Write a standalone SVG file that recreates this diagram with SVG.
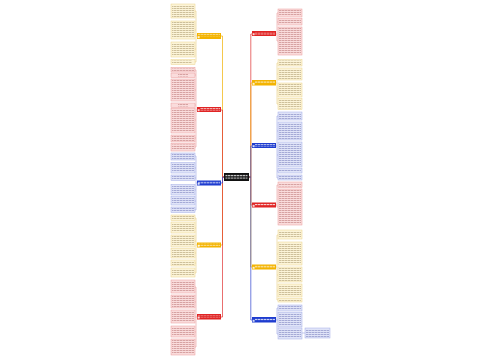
<svg xmlns="http://www.w3.org/2000/svg" width="500" height="360" viewBox="0 0 500 360">
<defs>
<pattern id="ty" width="3" height="2" patternUnits="userSpaceOnUse"><rect width="2.5" height="0.9" fill="#8a7440" opacity="0.45"/></pattern>
<pattern id="tr" width="3" height="2" patternUnits="userSpaceOnUse"><rect width="2.5" height="0.9" fill="#9a4040" opacity="0.42"/></pattern>
<pattern id="tb" width="3" height="2" patternUnits="userSpaceOnUse"><rect width="2.5" height="0.9" fill="#404a9a" opacity="0.42"/></pattern>
<pattern id="tw" width="3" height="2.4" patternUnits="userSpaceOnUse"><rect width="2.5" height="1" fill="#ffffff" opacity="0.85"/></pattern>
</defs>
<style>
.ly{fill:#fcf4d8;stroke:#ecd48c;stroke-width:0.5}
.lr{fill:#fadcdc;stroke:#eb9c9c;stroke-width:0.5}
.lb{fill:#e0e4f8;stroke:#a2ace6;stroke-width:0.5}
.ty{fill:url(#ty)}.tr{fill:url(#tr)}.tb{fill:url(#tb)}.tw{fill:url(#tw)}
.hy{fill:#f3b300}.hr{fill:#e02424}.hb{fill:#1e3ccf}
.ic{fill:#ffffff;opacity:0.8}
.c{fill:none;stroke-width:0.7}
.cy{stroke:#f0b000}.cr{stroke:#e03030}.cb{stroke:#3044d0}
.k{fill:none;stroke-width:0.6}
.ky{stroke:#e8cf80}.kr{stroke:#e89a9a}.kb{stroke:#9aa6e4}
</style>
<rect width="500" height="360" fill="#ffffff"/>
<g id="connectors">
<path class="c cy" d="M224,177 L222.5,177 L222.5,36 L221,36"/>
<path class="c cr" d="M224,177 L222.5,177 L222.5,110 L221,110"/>
<path class="c cy" d="M224,177 L222.5,177 L222.5,245 L221,245"/>
<path class="c cr" d="M224,177 L222.5,177 L222.5,317 L221,317"/>
<path class="c cb" d="M224,177 L222.5,177 L222.5,183 L221,183"/>
<path class="c cr" d="M249,177 L250.8,177 L250.8,34 L252,34"/>
<path class="c cy" d="M249,177 L250.8,177 L250.8,83 L252,83"/>
<path class="c cb" d="M249,177 L250.8,177 L250.8,146 L252,146"/>
<path class="c cr" d="M249,177 L250.8,177 L250.8,205 L252,205"/>
<path class="c cy" d="M249,177 L250.8,177 L250.8,267 L252,267"/>
<path class="c cb" d="M249,177 L250.8,177 L250.8,320 L252,320"/>
<path class="k ky" d="M197,36 L196,36 M196,11 L196,62 M196,11 L195,11 M196,30 L195,30 M196,49 L195,49 M196,62 L195,62"/>
<path class="k kr" d="M197,110 L196,110 M196,70 L196,147 M196,70 L195,70 M196,75 L195,75 M196,90 L195,90 M196,105 L195,105 M196,120 L195,120 M196,138 L195,138 M196,147 L195,147"/>
<path class="k kb" d="M197,183 L196,183 M196,156 L196,210 M196,156 L195,156 M196,168 L195,168 M196,178 L195,178 M196,190 L195,190 M196,201 L195,201 M196,210 L195,210"/>
<path class="k ky" d="M197,245 L196,245 M196,218 L196,273 M196,218 L195,218 M196,228 L195,228 M196,241 L195,241 M196,253 L195,253 M196,263 L195,263 M196,273 L195,273"/>
<path class="k kr" d="M197,317 L196,317 M196,287 L196,347 M196,287 L195,287 M196,302 L195,302 M196,317 L195,317 M196,332 L195,332 M196,347 L195,347"/>
<path class="k kr" d="M276,34 L277,34 M277,13 L277,41 M277,13 L278,13 M277,22 L278,22 M277,41 L278,41"/>
<path class="k ky" d="M276,83 L277,83 M277,63 L277,104 M277,63 L278,63 M277,74 L278,74 M277,90 L278,90 M277,104 L278,104"/>
<path class="k kb" d="M276,146 L277,146 M277,116 L277,178 M277,116 L278,116 M277,131 L278,131 M277,155 L278,155 M277,171 L278,171 M277,178 L278,178"/>
<path class="k kr" d="M276,205 L277,205 M277,185 L277,207 M277,185 L278,185 M277,207 L278,207"/>
<path class="k ky" d="M276,267 L277,267 M277,235 L277,300 M277,235 L278,235 M277,254 L278,254 M277,275 L278,275 M277,291 L278,291 M277,300 L278,300"/>
<path class="k kb" d="M276,320 L277,320 M277,308 L277,334 M277,308 L278,308 M277,320 L278,320 M277,334 L278,334"/>
<path class="k kb" d="M302,333 L305,333"/>
</g>
<g id="center"><rect x="224" y="173" width="25" height="8" fill="#111111"/><rect x="225.5" y="174.4" width="22" height="5.4" class="tw"/></g>
<g id="h-l1"><rect class="hy" x="197" y="33" width="24" height="6"/><rect class="ic" x="197.6" y="36.2" width="2" height="2"/><rect class="tw" x="198" y="33.8" width="22" height="2.4"/></g>
<g id="h-l2"><rect class="hr" x="197" y="107" width="24" height="5"/><rect class="ic" x="197.6" y="109.2" width="2" height="2"/><rect class="tw" x="200" y="108.2" width="20" height="2.4"/></g>
<g id="h-l3"><rect class="hb" x="197" y="180.5" width="24" height="5"/><rect class="ic" x="197.6" y="182.8" width="2" height="2"/><rect class="tw" x="198" y="181.4" width="22" height="2.4"/></g>
<g id="h-l4"><rect class="hy" x="197" y="242.5" width="24" height="5"/><rect class="ic" x="197.6" y="244.8" width="2" height="2"/><rect class="tw" x="198" y="243.4" width="22" height="2.4"/></g>
<g id="h-l5"><rect class="hr" x="197" y="314" width="24" height="5.5"/><rect class="ic" x="197.6" y="316.6" width="2" height="2"/><rect class="tw" x="198" y="315" width="22" height="2.4"/></g>
<g id="h-r1"><rect class="hr" x="252" y="31" width="24" height="5"/><rect class="ic" x="252.6" y="33.2" width="2" height="2"/><rect class="tw" x="255" y="32.2" width="20" height="2.4"/></g>
<g id="h-r2"><rect class="hy" x="252" y="80" width="24" height="5.5"/><rect class="ic" x="252.6" y="82.8" width="2" height="2"/><rect class="tw" x="255" y="81" width="20" height="2.4"/></g>
<g id="h-r3"><rect class="hb" x="252" y="143" width="24" height="5"/><rect class="ic" x="252.6" y="145.2" width="2" height="2"/><rect class="tw" x="255" y="144.2" width="20" height="2.4"/></g>
<g id="h-r4"><rect class="hr" x="252" y="202.5" width="24" height="5"/><rect class="ic" x="252.6" y="204.8" width="2" height="2"/><rect class="tw" x="255" y="203.4" width="20" height="2.4"/></g>
<g id="h-r5"><rect class="hy" x="252" y="264.5" width="24" height="5"/><rect class="ic" x="252.6" y="266.8" width="2" height="2"/><rect class="tw" x="255" y="265.4" width="20" height="2.4"/></g>
<g id="h-r6"><rect class="hb" x="252" y="317" width="24" height="5.5"/><rect class="ic" x="252.6" y="319.8" width="2" height="2"/><rect class="tw" x="255" y="318" width="20" height="2.4"/></g>
<g id="leaves-l1">
<rect class="ly" x="171" y="4" width="24" height="14"/><rect class="ty" x="172" y="5" width="22" height="12"/>
<rect class="ly" x="171" y="21" width="24" height="18"/><rect class="ty" x="172" y="22" width="22" height="16"/>
<rect class="ly" x="171" y="42" width="24" height="15"/><rect class="ty" x="172" y="43" width="22" height="13"/>
<rect class="ly" x="171" y="59.5" width="24" height="5"/><rect class="ty" x="172" y="60.5" width="20" height="3"/>
</g>
<g id="leaves-l2">
<rect class="lr" x="171" y="67.5" width="24" height="4.5"/><rect class="tr" x="172" y="68.5" width="22" height="2.5"/>
<rect class="lr" x="171" y="73" width="24" height="4.5"/><rect class="tr" x="178" y="74" width="10" height="2.5"/>
<rect class="lr" x="171" y="79" width="24" height="22"/><rect class="tr" x="172" y="80" width="22" height="20"/>
<rect class="lr" x="171" y="103" width="24" height="4.5"/><rect class="tr" x="178" y="104" width="10" height="2.5"/>
<rect class="lr" x="171" y="108.5" width="24" height="24.5"/><rect class="tr" x="172" y="109.5" width="22" height="22.5"/>
<rect class="lr" x="171" y="135" width="24" height="7"/><rect class="tr" x="172" y="136" width="22" height="5"/>
<rect class="lr" x="171" y="143.5" width="24" height="7.5"/><rect class="tr" x="172" y="144.5" width="22" height="5.5"/>
</g>
<g id="leaves-l3">
<rect class="lb" x="171" y="153" width="24" height="7"/><rect class="tb" x="172" y="154" width="22" height="5"/>
<rect class="lb" x="171" y="162.5" width="24" height="10.5"/><rect class="tb" x="172" y="163.5" width="22" height="8.5"/>
<rect class="lb" x="171" y="175" width="24" height="5.5"/><rect class="tb" x="172" y="176" width="22" height="3.5"/>
<rect class="lb" x="171" y="184.5" width="24" height="10.5"/><rect class="tb" x="172" y="185.5" width="22" height="8.5"/>
<rect class="lb" x="171" y="196.5" width="24" height="8.5"/><rect class="tb" x="172" y="197.5" width="22" height="6.5"/>
<rect class="lb" x="171" y="207" width="24" height="5.5"/><rect class="tb" x="172" y="208" width="22" height="3.5"/>
</g>
<g id="leaves-l4">
<rect class="ly" x="171" y="215" width="24" height="5.5"/><rect class="ty" x="172" y="216" width="22" height="3.5"/>
<rect class="ly" x="171" y="222" width="24" height="11"/><rect class="ty" x="172" y="223" width="22" height="9"/>
<rect class="ly" x="171" y="235" width="24" height="12"/><rect class="ty" x="172" y="236" width="22" height="10"/>
<rect class="ly" x="171" y="248.5" width="24" height="9.5"/><rect class="ty" x="172" y="249.5" width="22" height="7.5"/>
<rect class="ly" x="171" y="260" width="24" height="6"/><rect class="ty" x="172" y="261" width="22" height="4"/>
<rect class="ly" x="171" y="268" width="24" height="9"/><rect class="ty" x="172" y="269" width="22" height="7"/>
</g>
<g id="leaves-l5">
<rect class="lr" x="171" y="280" width="24" height="13"/><rect class="tr" x="172" y="281" width="22" height="11"/>
<rect class="lr" x="171" y="295" width="24" height="13"/><rect class="tr" x="172" y="296" width="22" height="11"/>
<rect class="lr" x="171" y="310" width="24" height="13"/><rect class="tr" x="172" y="311" width="22" height="11"/>
<rect class="lr" x="171" y="326" width="24" height="11"/><rect class="tr" x="172" y="327" width="22" height="9"/>
<rect class="lr" x="171" y="339" width="24" height="16"/><rect class="tr" x="172" y="340" width="22" height="14"/>
</g>
<g id="leaves-r1">
<rect class="lr" x="278" y="9" width="24" height="8"/><rect class="tr" x="279" y="10" width="22" height="6"/>
<rect class="lr" x="278" y="18.5" width="24" height="6.5"/><rect class="tr" x="279" y="19.5" width="22" height="4.5"/>
<rect class="lr" x="278" y="27" width="24" height="28"/><rect class="tr" x="279" y="28" width="22" height="26"/>
</g>
<g id="leaves-r2">
<rect class="ly" x="278" y="59.5" width="24" height="6.5"/><rect class="ty" x="279" y="60.5" width="22" height="4.5"/>
<rect class="ly" x="278" y="68" width="24" height="12"/><rect class="ty" x="279" y="69" width="22" height="10"/>
<rect class="ly" x="278" y="83" width="24" height="14"/><rect class="ty" x="279" y="84" width="22" height="12"/>
<rect class="ly" x="278" y="98.5" width="24" height="11"/><rect class="ty" x="279" y="99.5" width="22" height="9"/>
</g>
<g id="leaves-r3">
<rect class="lb" x="278" y="112" width="24" height="8"/><rect class="tb" x="279" y="113" width="22" height="6"/>
<rect class="lb" x="278" y="122" width="24" height="18"/><rect class="tb" x="279" y="123" width="22" height="16"/>
<rect class="lb" x="278" y="142" width="24" height="25"/><rect class="tb" x="279" y="143" width="22" height="23"/>
<rect class="lb" x="278" y="168.5" width="24" height="4.5"/><rect class="tb" x="279" y="169.5" width="22" height="2.5"/>
<rect class="lb" x="278" y="175" width="24" height="5"/><rect class="tb" x="279" y="176" width="22" height="3"/>
</g>
<g id="leaves-r4">
<rect class="lr" x="278" y="182" width="24" height="5.5"/><rect class="tr" x="279" y="183" width="22" height="3.5"/>
<rect class="lr" x="278" y="189" width="24" height="36"/><rect class="tr" x="279" y="190" width="22" height="34"/>
</g>
<g id="leaves-r5">
<rect class="ly" x="278" y="230" width="24" height="9"/><rect class="ty" x="279" y="231" width="22" height="7"/>
<rect class="ly" x="278" y="242" width="24" height="23"/><rect class="ty" x="279" y="243" width="22" height="21"/>
<rect class="ly" x="278" y="267" width="24" height="15"/><rect class="ty" x="279" y="268" width="22" height="13"/>
<rect class="ly" x="278" y="284" width="24" height="13"/><rect class="ty" x="279" y="285" width="22" height="11"/>
<rect class="ly" x="278" y="298.5" width="24" height="3.5"/><rect class="ty" x="279" y="299.3" width="22" height="2"/>
</g>
<g id="leaves-r6">
<rect class="lb" x="278" y="305" width="24" height="6"/><rect class="tb" x="279" y="306" width="22" height="4"/>
<rect class="lb" x="278" y="312.5" width="24" height="14.5"/><rect class="tb" x="279" y="313.5" width="22" height="12.5"/>
<rect class="lb" x="278" y="328" width="24" height="11"/><rect class="tb" x="279" y="329" width="22" height="9"/>
</g>
<g id="leaf-r6-extra"><rect class="lb" x="305" y="328" width="25" height="10"/><rect class="tb" x="306" y="329" width="23" height="8"/></g>
</svg>
